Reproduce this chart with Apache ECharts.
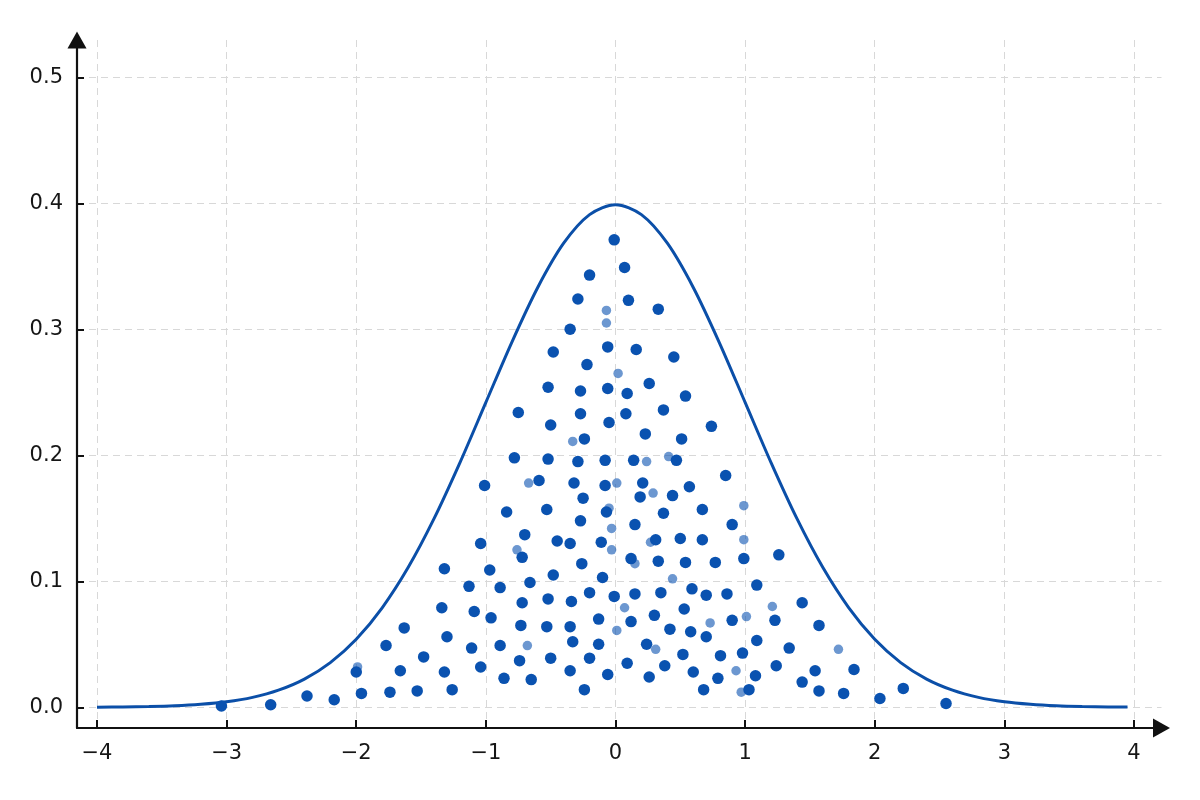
<!DOCTYPE html>
<html>
<head>
<meta charset="utf-8">
<script src="https://cdn.jsdelivr.net/npm/echarts@6/dist/echarts.min.js"></script>
<style>
  html, body { margin: 0; padding: 0; background: #fff; }
  #chart { width: 1200px; height: 800px; }
</style>
</head>
<body>
<div id="chart"></div>
<script>
// tick positions
const xTicks = [-4, -3, -2, -1, 0, 1, 2, 3, 4];
const yTicks = [0, 0.1, 0.2, 0.3, 0.4, 0.5];

// density curve
const curveX = [-4, -3.8, -3.6, -3.4, -3.2, -3, -2.8, -2.6, -2.4, -2.2, -2, -1.8, -1.6, -1.4, -1.2, -1,
  -0.8, -0.6, -0.4, -0.2, 0, 0.2, 0.4, 0.6, 0.8, 1, 1.2, 1.4, 1.6, 1.8, 2, 2.2, 2.4, 2.6, 2.8, 3,
  3.2, 3.4, 3.6, 3.8, 3.95];
const curveY = [0.0001, 0.0003, 0.0006, 0.0012, 0.0024, 0.0044, 0.0079, 0.0136, 0.0224, 0.0355, 0.054,
  0.079, 0.1109, 0.1497, 0.1942, 0.242, 0.2897, 0.3332, 0.3683, 0.391, 0.3989, 0.391, 0.3683, 0.3332,
  0.2897, 0.242, 0.1942, 0.1497, 0.1109, 0.079, 0.054, 0.0355, 0.0224, 0.0136, 0.0079, 0.0044,
  0.0024, 0.0012, 0.0006, 0.0003, 0.0002];

// sample points under the curve
const dots = [
  [-0.01, 0.371], [0.07, 0.349], [-0.20, 0.343], [-0.29, 0.324], [0.10, 0.323], [0.33, 0.316],
  [-0.35, 0.300], [-0.48, 0.282], [-0.06, 0.286], [0.16, 0.284], [0.45, 0.278], [-0.22, 0.272],
  [0.26, 0.257], [-0.52, 0.254], [-0.06, 0.253], [-0.27, 0.251], [0.09, 0.249],
  [-0.75, 0.234], [-0.27, 0.233], [-0.50, 0.224], [-0.05, 0.226], [-0.24, 0.213], [-0.78, 0.198],
  [-0.52, 0.197], [-0.29, 0.195], [-0.08, 0.196], [-1.01, 0.176], [-0.59, 0.180], [-0.32, 0.178],
  [-0.08, 0.176], [-0.25, 0.166], [-0.84, 0.155], [-0.53, 0.157], [-0.07, 0.155], [-0.27, 0.148],
  [-0.70, 0.137], [-1.04, 0.130], [-0.45, 0.132], [-0.35, 0.130], [-0.11, 0.131],
  [0.54, 0.247], [0.08, 0.233], [0.37, 0.236], [0.74, 0.223], [0.23, 0.217], [0.51, 0.213],
  [0.14, 0.196], [0.47, 0.196], [0.85, 0.184], [0.21, 0.178], [0.57, 0.175], [0.19, 0.167],
  [0.44, 0.168], [0.67, 0.157], [0.37, 0.154], [0.15, 0.145], [0.90, 0.145], [0.31, 0.133],
  [0.50, 0.134], [0.67, 0.133],
  [-0.72, 0.119], [-1.32, 0.110], [-0.97, 0.109], [-0.26, 0.114], [-0.48, 0.105], [-0.10, 0.103],
  [-1.13, 0.096], [-0.89, 0.095], [-0.66, 0.099], [-0.20, 0.091], [-0.01, 0.088], [-1.34, 0.079],
  [-1.09, 0.076], [-0.96, 0.071], [-0.72, 0.083], [-0.52, 0.086], [-0.34, 0.084], [-0.13, 0.070],
  [-1.30, 0.056], [-1.11, 0.047], [-0.89, 0.049], [-0.73, 0.065], [-0.53, 0.064], [-0.35, 0.064],
  [-0.33, 0.052], [-0.13, 0.050], [-1.32, 0.028], [-1.04, 0.032], [-0.74, 0.037], [-0.50, 0.039],
  [-0.20, 0.039], [-1.26, 0.014], [-0.86, 0.023], [-0.65, 0.022], [-0.35, 0.029], [-0.06, 0.026],
  [-0.24, 0.014],
  [0.12, 0.118], [0.33, 0.116], [0.54, 0.115], [0.77, 0.115], [0.99, 0.118], [1.26, 0.121],
  [0.15, 0.090], [0.35, 0.091], [0.59, 0.094], [0.70, 0.089], [0.86, 0.090], [1.09, 0.097],
  [0.30, 0.073], [0.53, 0.078], [0.12, 0.068], [0.42, 0.062], [0.58, 0.060], [0.70, 0.056],
  [0.90, 0.069], [1.23, 0.069], [0.24, 0.050], [0.52, 0.042], [0.81, 0.041], [0.98, 0.043],
  [1.09, 0.053], [1.34, 0.047], [0.09, 0.035], [0.38, 0.033], [0.60, 0.028], [0.79, 0.023],
  [1.08, 0.025], [1.24, 0.033], [0.26, 0.024], [0.68, 0.014], [1.03, 0.014],
  [-1.63, 0.063], [-1.77, 0.049], [-1.48, 0.040], [-2.00, 0.028], [-1.66, 0.029], [-3.04, 0.001],
  [-2.66, 0.002], [-2.38, 0.009], [-2.17, 0.006], [-1.96, 0.011], [-1.74, 0.012], [-1.53, 0.013],
  [1.44, 0.083], [1.57, 0.065], [1.54, 0.029], [1.84, 0.030], [1.44, 0.020], [1.57, 0.013],
  [1.76, 0.011], [2.04, 0.007], [2.22, 0.015], [2.55, 0.003]
];

// blurred / lighter points
const dotsFaint = [
  [-0.07, 0.315], [-0.07, 0.305], [0.02, 0.265], [-0.33, 0.211], [-0.67, 0.178], [0.01, 0.178],
  [-0.05, 0.158], [-0.03, 0.142], [0.24, 0.195], [0.41, 0.199], [0.29, 0.170], [0.99, 0.160],
  [0.99, 0.133], [0.27, 0.131], [-0.76, 0.125], [-0.03, 0.125], [-0.68, 0.049], [0.01, 0.061],
  [0.15, 0.114], [0.44, 0.102], [0.07, 0.079], [1.21, 0.080], [0.73, 0.067], [1.01, 0.072],
  [0.31, 0.046], [0.93, 0.029], [0.97, 0.012], [-1.99, 0.032], [1.72, 0.046]
];

const blue = "#0b4fa8";
const dotBlue = "#0a52b0";
const gridLine = { show: true, lineStyle: { color: "#d8d8d8", width: 1, type: [7, 5] } };
const axisFont = { fontFamily: "DejaVu Sans", fontSize: 21, color: "#161616" };
const minus = v => (v < 0 ? "\u2212" + Math.abs(v) : String(v));

const chart = echarts.init(document.getElementById("chart"), null, { renderer: "canvas" });

chart.setOption({
  animation: false,
  backgroundColor: "#fff",
  grid: { left: 77, right: 38.5, top: 40, bottom: 72, containLabel: false },
  xAxis: {
    type: "value",
    min: -4.1543,
    max: 4.2122,
    axisLine: {
      show: true,
      onZero: false,
      symbol: ["none", "triangle"],
      symbolSize: [19, 17],
      lineStyle: { color: "#111", width: 2.2 },
    },
    axisTick: { show: true, inside: true, length: 8, customValues: xTicks, lineStyle: { color: "#111", width: 2 } },
    axisLabel: { customValues: xTicks, margin: 15, formatter: minus, ...axisFont },
    splitLine: { ...gridLine, customValues: xTicks },
  },
  yAxis: {
    type: "value",
    min: -0.01643,
    max: 0.5296,
    axisLine: {
      show: true,
      onZero: false,
      symbol: ["none", "triangle"],
      symbolSize: [19, 17],
      lineStyle: { color: "#111", width: 2.2 },
    },
    axisTick: { show: true, inside: true, length: 7, customValues: yTicks, lineStyle: { color: "#111", width: 2 } },
    axisLabel: { customValues: yTicks, margin: 14, formatter: v => v.toFixed(1), ...axisFont },
    splitLine: { ...gridLine, customValues: yTicks },
  },
  series: [
    {
      type: "line",
      data: curveX.map((x, i) => [x, curveY[i]]),
      smooth: 0.3,
      showSymbol: false,
      lineStyle: { color: blue, width: 3 },
      z: 3,
    },
    {
      type: "scatter",
      data: dotsFaint,
      symbolSize: 9.5,
      itemStyle: { color: dotBlue, opacity: 0.6 },
      z: 4,
    },
    {
      type: "scatter",
      data: dots,
      symbolSize: 11.5,
      itemStyle: { color: dotBlue, opacity: 1 },
      z: 5,
    },
  ],
});
</script>
</body>
</html>
